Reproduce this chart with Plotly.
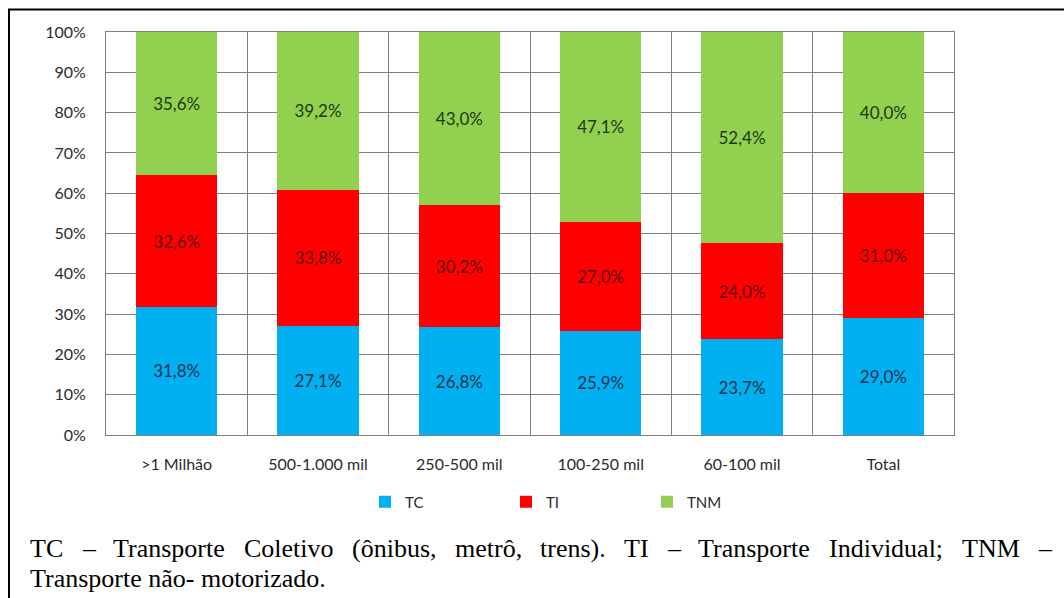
import plotly.graph_objects as go

# Modal split by city size (share of trips, %)
categories = [">1 Milhão", "500-1.000 mil", "250-500 mil", "100-250 mil", "60-100 mil", "Total"]
tc_values = [31.8, 27.1, 26.8, 25.9, 23.7, 29.0]
ti_values = [32.6, 33.8, 30.2, 27.0, 24.0, 31.0]
tnm_values = [35.6, 39.2, 43.0, 47.1, 52.4, 40.0]
y_ticks = [0, 10, 20, 30, 40, 50, 60, 70, 80, 90, 100]

caption_line1 = "TC – Transporte Coletivo (ônibus, metrô, trens). TI – Transporte Individual; TNM –"
caption_line2 = "Transporte não- motorizado."

W, H = 1064, 598
PLOT_L, PLOT_R, PLOT_T, PLOT_B = 106, 954, 32, 435
SERIF = "Liberation Serif, Times New Roman, DejaVu Serif, serif"
SANS = "Lato, Open Sans, sans-serif"
TEXT_GREY = "#2B2B2B"


def px_x(x):
    return (x - PLOT_L) / (PLOT_R - PLOT_L)


def px_y(y):
    return (PLOT_B - y) / (PLOT_B - PLOT_T)


def pct_label(v):
    return f"{v:.1f}%".replace(".", ",")


series = [
    ("TC", tc_values, "#00B0F0", "#16324F"),
    ("TI", ti_values, "#FF0000", "#5C0A0A"),
    ("TNM", tnm_values, "#92D050", "#1F3A12"),
]

fig = go.Figure()
for name, vals, color, txtcolor in series:
    fig.add_trace(go.Bar(
        name=name,
        x=categories,
        y=vals,
        marker=dict(color=color, line=dict(width=0)),
        text=[pct_label(v) for v in vals],
        textposition="inside",
        insidetextanchor="middle",
        textangle=0,
        constraintext="none",
        textfont=dict(family=SANS, size=17, color=txtcolor),
        hoverinfo="skip",
    ))

# Times-style advance widths (per 1000 em) for justified caption layout
TIMES_W = {
    "T": 611, "C": 667, "I": 333, "N": 722, "M": 889, "–": 500, "r": 333, "a": 444,
    "n": 500, "s": 389, "p": 500, "o": 500, "t": 278, "e": 444, "l": 278, "i": 278,
    "v": 500, "(": 333, ")": 333, "ô": 500, "b": 500, "u": 500, ",": 250, "m": 778,
    ".": 250, "d": 500, ";": 278, "ã": 444, "-": 333, "z": 444, "c": 444, " ": 250,
}
CAP_SIZE = 26
CAP_LEFT, CAP_RIGHT = 28, 1049


def word_width(w):
    return sum(TIMES_W.get(ch, 500) for ch in w) * CAP_SIZE / 1000.0


annotations = []
words = caption_line1.split(" ")
widths = [word_width(w) for w in words]
gap = (CAP_RIGHT - CAP_LEFT - sum(widths)) / (len(words) - 1)
x = CAP_LEFT
for w, ww in zip(words, widths):
    annotations.append(dict(
        text=w, x=px_x(x), y=px_y(548), xref="paper", yref="paper",
        xanchor="left", yanchor="middle", showarrow=False,
        font=dict(family=SERIF, size=CAP_SIZE, color="#000000"),
    ))
    x += ww + gap

annotations.append(dict(
    text=caption_line2, x=px_x(CAP_LEFT), y=px_y(578), xref="paper", yref="paper",
    xanchor="left", yanchor="middle", showarrow=False,
    font=dict(family=SERIF, size=CAP_SIZE, color="#000000"),
))

fig.update_layout(
    width=W, height=H,
    margin=dict(l=PLOT_L, r=W - PLOT_R, t=PLOT_T, b=H - PLOT_B, pad=0),
    paper_bgcolor="#FFFFFF",
    plot_bgcolor="#FFFFFF",
    barmode="stack",
    bargap=0.425,
    font=dict(family=SANS, size=16, color=TEXT_GREY),
    legend=dict(
        orientation="h", x=px_x(365), y=px_y(502), xanchor="left", yanchor="middle",
        entrywidth=96, entrywidthmode="pixels", itemwidth=30,
        font=dict(family=SANS, size=15, color=TEXT_GREY),
        traceorder="normal", bgcolor="rgba(0,0,0,0)",
    ),
    annotations=annotations,
    shapes=[dict(
        type="rect", xref="paper", yref="paper",
        x0=px_x(9), x1=px_x(1080), y0=px_y(9.5), y1=px_y(620),
        line=dict(color="#000000", width=2), fillcolor="rgba(0,0,0,0)", layer="above",
    )],
)

fig.update_xaxes(
    type="category",
    tickson="boundaries",
    showgrid=True, gridcolor="#808080", gridwidth=1,
    showline=True, linecolor="#808080", linewidth=1, mirror=True,
    ticks="", ticklabelstandoff=15,
    tickfont=dict(family=SANS, size=16, color=TEXT_GREY),
)
fig.update_yaxes(
    range=[0, 100],
    tickvals=y_ticks,
    ticktext=[f"{v}%" for v in y_ticks],
    showgrid=True, gridcolor="#808080", gridwidth=1,
    showline=True, linecolor="#808080", linewidth=1, mirror=True,
    zeroline=False,
    ticks="", ticklabelstandoff=16,
    tickfont=dict(family=SANS, size=16, color=TEXT_GREY),
)

fig.write_html("out.html")
